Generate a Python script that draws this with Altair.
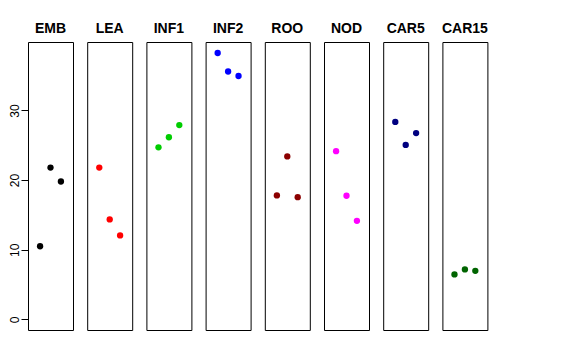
import altair as alt
import pandas as pd

groups = ["EMB", "LEA", "INF1", "INF2", "ROO", "NOD", "CAR5", "CAR15"]
colors = ["#000000", "#FF0000", "#00CD00", "#0000FF", "#8B0000", "#FF00FF", "#000080", "#006400"]
rep = [1, 2, 3]
values = {
    "EMB": [10.5, 21.8, 19.8],
    "LEA": [21.8, 14.35, 12.05],
    "INF1": [24.7, 26.15, 27.9],
    "INF2": [38.25, 35.6, 34.95],
    "ROO": [17.8, 23.4, 17.55],
    "NOD": [24.15, 17.75, 14.15],
    "CAR5": [28.35, 25.05, 26.75],
    "CAR15": [6.45, 7.17, 6.97],
}

rows = []
for g in groups:
    for r, v in zip(rep, values[g]):
        rows.append({"group": g, "rep": r, "value": v})
df = pd.DataFrame(rows)

ymax = 38.3
base = alt.Chart(df).mark_circle(size=40, opacity=1).encode(
    x=alt.X("rep:Q", scale=alt.Scale(domain=[-0.16, 4.16], nice=False, zero=False), axis=None),
    y=alt.Y("value:Q",
            scale=alt.Scale(domain=[-0.04 * ymax, 1.04 * ymax], nice=False, zero=False),
            axis=alt.Axis(values=[0, 10, 20, 30], title=None, grid=False, domain=False,
                          tickSize=7, tickColor="black", labelAngle=270, labelAlign="center",
                          labelBaseline="alphabetic", labelPadding=3, labelFontSize=12,
                          labelFont="Liberation Sans", labelColor="black")),
    color=alt.Color("group:N", scale=alt.Scale(domain=groups, range=colors), legend=None),
).properties(width=45, height=288)

chart = base.facet(
    column=alt.Column("group:N", sort=groups,
                      header=alt.Header(title=None, labelFontWeight="bold", labelFontSize=14,
                                        labelFont="Liberation Sans", labelColor="black",
                                        labelPadding=6)),
    spacing=14.2,
    bounds="flush",
).configure_view(stroke="black", strokeWidth=1).properties(
    padding={"left": 0, "top": 14, "right": 5, "bottom": 5}
)

chart.save("out.html", embed_options={"renderer": "svg", "actions": False})
